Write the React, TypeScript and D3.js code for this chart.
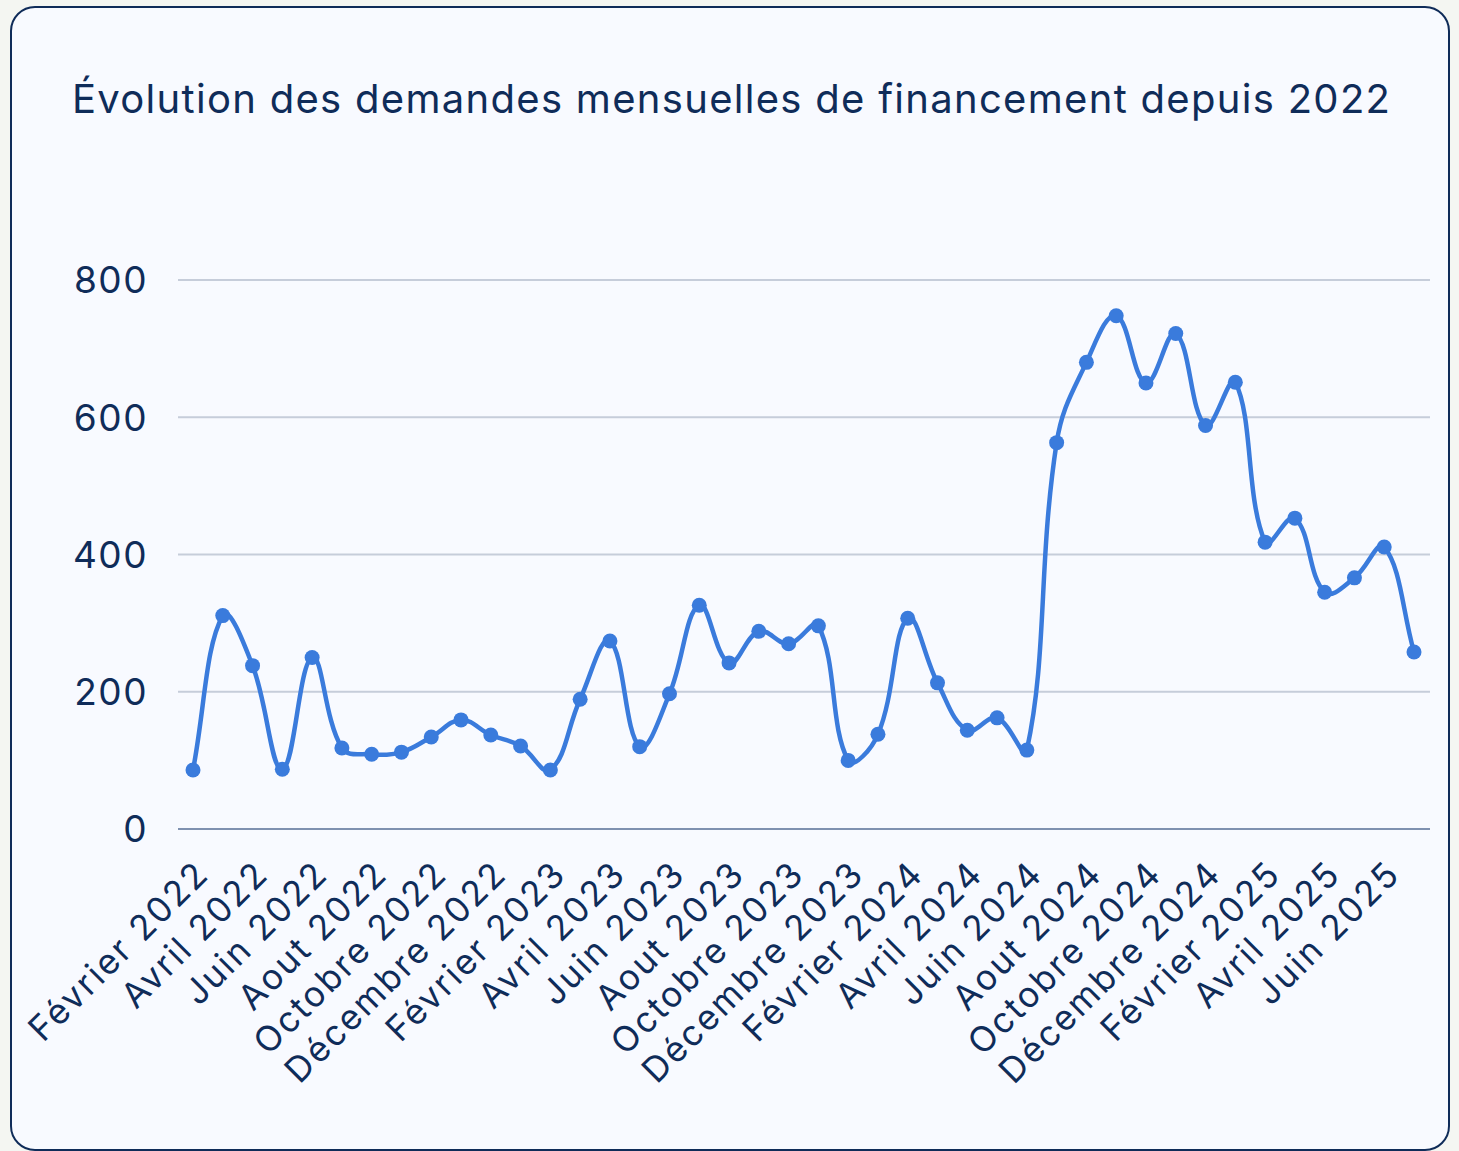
import React from "react";
import * as d3 from "d3";

const title = "Évolution des demandes mensuelles de financement depuis 2022";

const months = [
  "Février 2022", "Mars 2022", "Avril 2022", "Mai 2022", "Juin 2022", "Juillet 2022",
  "Aout 2022", "Septembre 2022", "Octobre 2022", "Novembre 2022", "Décembre 2022",
  "Janvier 2023", "Février 2023", "Mars 2023", "Avril 2023", "Mai 2023", "Juin 2023",
  "Juillet 2023", "Aout 2023", "Septembre 2023", "Octobre 2023", "Novembre 2023", "Décembre 2023",
  "Janvier 2024", "Février 2024", "Mars 2024", "Avril 2024", "Mai 2024", "Juin 2024",
  "Juillet 2024", "Aout 2024", "Septembre 2024", "Octobre 2024", "Novembre 2024", "Décembre 2024",
  "Janvier 2025", "Février 2025", "Mars 2025", "Avril 2025", "Mai 2025", "Juin 2025", "Juillet 2025",
];

const demandes = [
  86, 311, 238, 87, 250, 118, 109, 112, 134, 159, 137,
  121, 86, 189, 274, 120, 197, 326, 242, 288, 270, 296, 100,
  138, 307, 213, 144, 162, 115, 563, 680, 748, 650, 722, 588,
  651, 418, 453, 345, 366, 411, 258,
];

const yTicks = [0, 200, 400, 600, 800];

const W = 1459;
const H = 1151;
const navy = "#0f2c59";
const blue = "#3a7bdc";
const font = "Inter, 'Noto Sans', sans-serif";

// chart.js style bezier spline (tension 0.4)
function splinePath(pts: [number, number][], t: number) {
  const cps = pts.map((cur, i) => {
    const prev = pts[i - 1] || cur;
    const next = pts[i + 1] || cur;
    const d01 = Math.hypot(cur[0] - prev[0], cur[1] - prev[1]);
    const d12 = Math.hypot(next[0] - cur[0], next[1] - cur[1]);
    let s01 = d01 / (d01 + d12);
    let s12 = d12 / (d01 + d12);
    if (isNaN(s01)) s01 = 0;
    if (isNaN(s12)) s12 = 0;
    const fa = t * s01;
    const fb = t * s12;
    return {
      c1: [cur[0] - fa * (next[0] - prev[0]), cur[1] - fa * (next[1] - prev[1])],
      c2: [cur[0] + fb * (next[0] - prev[0]), cur[1] + fb * (next[1] - prev[1])],
    };
  });
  const p = d3.path();
  p.moveTo(pts[0][0], pts[0][1]);
  for (let i = 1; i < pts.length; i++) {
    p.bezierCurveTo(cps[i - 1].c2[0], cps[i - 1].c2[1], cps[i].c1[0], cps[i].c1[1], pts[i][0], pts[i][1]);
  }
  return p.toString();
}

export default function App() {
  const x = d3.scalePoint<string>().domain(months).range([193, 1414]);
  const y = d3.scaleLinear().domain([0, 800]).range([829, 280]);

  const pts: [number, number][] = demandes.map((d, i) => [x(months[i]) as number, y(d)]);
  const linePath = splinePath(pts, 0.4);

  const shownLabels = months.filter((_, i) => i % 2 === 0);

  return (
    <svg
      width={W}
      height={H}
      style={{ position: "absolute", left: 0, top: 0, display: "block" }}
      fontFamily={font}
    >
      <rect x={0} y={0} width={W} height={H} fill="#f4f6f2" />
      <rect x={11} y={7} width={1438} height={1143} rx={24} ry={24} fill="#f8faff" stroke={navy} strokeWidth={2} />

      <text x={72} y={113} fontSize={40} fill={navy} textLength={1318} lengthAdjust="spacing">
        {title}
      </text>

      {yTicks.map((t) => (
        <g key={t}>
          <line
            x1={178}
            x2={1430}
            y1={y(t)}
            y2={y(t)}
            stroke={t === 0 ? "#7f91b0" : "#c6cdda"}
            strokeWidth={2}
          />
          <text x={148} y={y(t)} dy="0.36em" textAnchor="end" fontSize={37} fill={navy} letterSpacing={1.5}>
            {t}
          </text>
        </g>
      ))}

      {shownLabels.map((m) => (
        <text
          key={m}
          transform={`translate(${x(m)},858) rotate(-45)`}
          textAnchor="end"
          dy="0.72em"
          fontSize={35}
          fill={navy}
          letterSpacing={2.2}
        >
          {m}
        </text>
      ))}

      <path d={linePath} fill="none" stroke={blue} strokeWidth={4.5} />
      {pts.map((p, i) => (
        <circle key={i} cx={p[0]} cy={p[1]} r={7.5} fill={blue} />
      ))}
    </svg>
  );
}
